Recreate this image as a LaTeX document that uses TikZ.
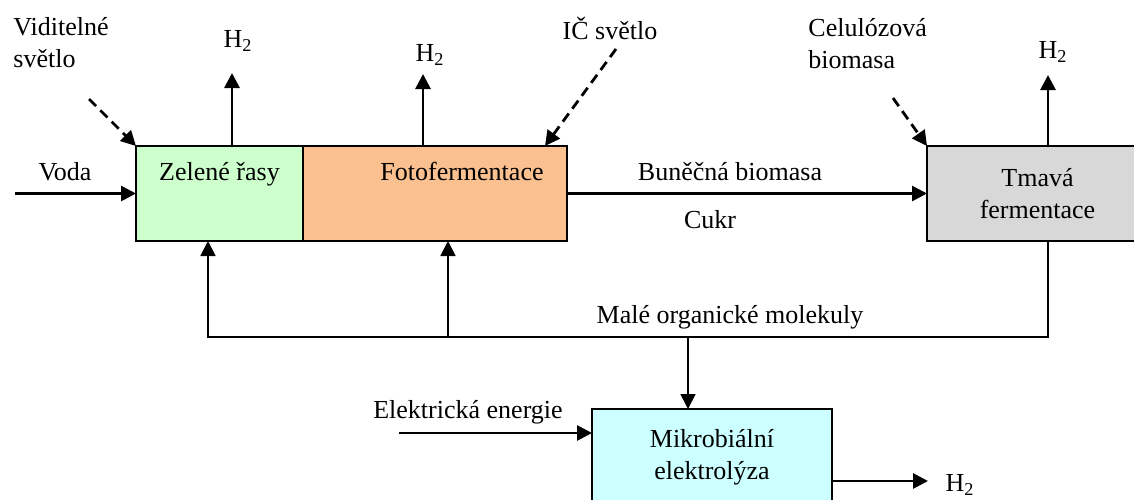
\documentclass[tikz,border=0pt]{standalone}
\usepackage{fontspec}
\setmainfont{Liberation Serif}
\usepackage{xcolor}
\usepackage{tikz}
\usetikzlibrary{positioning,arrows.meta}
\definecolor{algaegreen}{RGB}{204, 255, 204}
\definecolor{photoorange}{RGB}{250, 192, 144}
\definecolor{darkgray}{RGB}{216, 216, 216}
\definecolor{electrocyan}{RGB}{204, 255, 255}

\begin{document}
\begin{tikzpicture}[
    x=0.5pt, y=-0.5pt,
    font=\fontsize{13}{16}\selectfont,
    box/.style={rectangle, draw, line width=1.2pt, inner sep=0pt, outer sep=0pt,
                minimum height=47.5pt, align=center},
    arrow/.style={-{Triangle[length=7.5pt, width=7.5pt]}, line width=1.4pt},
    light/.style={arrow, dash pattern=on 5pt off 3pt},
    feed/.style={-{Triangle[length=7.5pt, width=7.5pt]}, line width=0.9pt},
    label/.style={inner sep=1pt}
]
    \useasboundingbox (0,0) rectangle (1134,499);
    \clip (0,0) rectangle (1134,499);

    % Main boxes
    \node[box, fill=algaegreen, minimum width=83.5pt, text height=17pt, text depth=30.5pt,
          anchor=north west] (zelene) at (136,146) {Zelené řasy};
    \node[box, fill=photoorange, minimum width=132pt, text height=17pt, text depth=30.5pt,
          right=0pt of zelene] (foto) {\hspace*{27pt}Fotofermentace};
    \node[box, fill=darkgray, minimum width=110.5pt, anchor=north west] (tmava) at (927,146)
        {Tmavá\\fermentace};
    \node[box, fill=electrocyan, minimum width=120pt, minimum height=48pt, anchor=north west]
        (mikro) at (592,409) {Mikrobiální\\elektrolýza};

    % Inputs
    \coordinate (vodain) at (15,193.5);
    \node[label] (voda) at (65,172) {Voda};
    \draw[arrow] (vodain) -- (vodain -| zelene.west);

    \coordinate (elin) at (399,433);
    \node[label] (elek) at (468,412) {Elektrická energie};
    \draw[arrow] (elin) -- (mikro.west |- elin);

    % Light and biomass (dashed)
    \node[label, align=left, anchor=west] (vis) at (11,43) {Viditelné\\světlo};
    \coordinate (visstart) at (89,99);
    \draw[light] (visstart) -- (zelene.north west);

    \node[label] (ir) at (610,28) {IČ světlo};
    \coordinate (irstart) at (616,49);
    \draw[light] (irstart) -- ([xshift=-11pt]foto.north east);

    \node[label, align=left, anchor=west] (celul) at (806,44) {Celulózová\\biomasa};
    \coordinate (celstart) at (893,98);
    \draw[light] (celstart) -- (tmava.north west);

    % Hydrogen outputs
    \node[label] (h2z) at (238,41) {H\textsubscript{2}};
    \coordinate (h2zt) at (232,73);
    \draw[arrow] (zelene.north -| h2zt) -- (h2zt);

    \node[label] (h2f) at (430,55) {H\textsubscript{2}};
    \coordinate (h2ft) at (423,74);
    \draw[arrow] (foto.north -| h2ft) -- (h2ft);

    \node[label] (h2t) at (1053,52) {H\textsubscript{2}};
    \coordinate (h2tt) at (1048,75);
    \draw[arrow] (tmava.north -| h2tt) -- (h2tt);

    \node[label] (h2m) at (960,485) {H\textsubscript{2}};
    \coordinate (h2mt) at (928,481);
    \draw[arrow] (mikro.east |- h2mt) -- (h2mt);

    % Biomass to dark fermentation
    \draw[arrow] (foto.east) -- (tmava.west);
    \node[label] (bunecna) at (730,172) {Buněčná biomasa};
    \node[label] (cukr) at (710,220) {Cukr};

    % Feedback of small molecules
    \coordinate (fbr) at (1048,337);
    \coordinate (fbl) at (208,337);
    \coordinate (fbm) at (448,337);
    \coordinate (fbd) at (688,337);
    \draw[feed] (tmava.south -| fbr) -- (fbr) -- (fbl) -- (zelene.south -| fbl);
    \draw[feed] (fbm) -- (foto.south -| fbm);
    \draw[feed] (fbd) -- (mikro.north -| fbd);
    \node[label] (male) at (730,317) {Malé organické molekuly};
\end{tikzpicture}
\end{document}
